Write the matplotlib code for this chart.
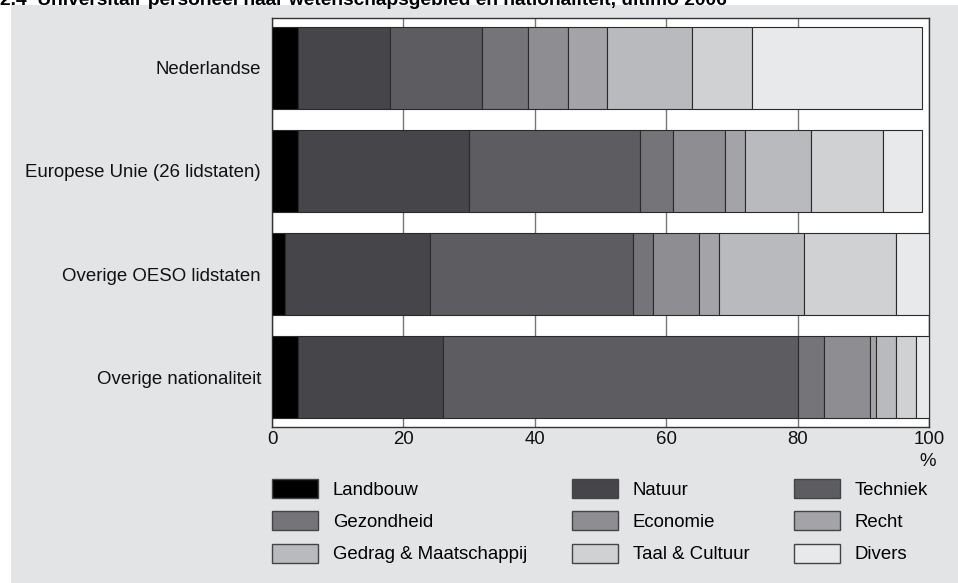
import matplotlib
matplotlib.use("Agg")
import matplotlib.pyplot as plt
from matplotlib.patches import Patch, Rectangle
import numpy as np

plt.rcParams["font.family"] = ["Liberation Sans", "DejaVu Sans"]

# ── Data ──────────────────────────────────────────────────────────────────────
groups = ["Nederlandse", "Europese Unie (26 lidstaten)",
          "Overige OESO lidstaten", "Overige nationaliteit"]
fields = ["Landbouw", "Natuur", "Techniek", "Gezondheid", "Economie",
          "Recht", "Gedrag & Maatschappij", "Taal & Cultuur", "Divers"]

landbouw   = [4, 4, 2, 4]
natuur     = [14, 26, 22, 22]
techniek   = [14, 26, 31, 54]
gezondheid = [7, 5, 3, 4]
economie   = [6, 8, 7, 7]
recht      = [6, 3, 3, 1]
gedrag     = [13, 10, 13, 3]
taal       = [9, 11, 14, 3]
divers     = [26, 6, 5, 2]

series = [landbouw, natuur, techniek, gezondheid, economie,
          recht, gedrag, taal, divers]
colors = ["#000000", "#464549", "#5d5c61", "#757479", "#8e8d92",
          "#a4a3a7", "#b9babd", "#d0d1d3", "#e8e9ea"]

# ── Figure ────────────────────────────────────────────────────────────────────
fig = plt.figure(figsize=(9.58, 5.83), dpi=100)
fig.patch.set_facecolor("white")
fig.patches.append(Rectangle((11 / 958, 0), 1, 1 - 5 / 583,
                             transform=fig.transFigure,
                             facecolor="#e3e4e6", edgecolor="none", zorder=-10))

ax = fig.add_axes([272 / 958, 1 - 427 / 583, 657 / 958, 409 / 583])
ax.set_facecolor("white")

y = np.arange(len(groups))
left = np.zeros(len(groups))
for vals, col, name in zip(series, colors, fields):
    ax.barh(y, vals, left=left, height=0.8, color=col, edgecolor="#2a2a2a",
            linewidth=0.8, label=name, zorder=3)
    left += np.array(vals)

ax.set_xlim(0, 100)
ax.set_ylim(3.485, -0.485)
ax.set_xticks([0, 20, 40, 60, 80, 100])
ax.set_yticks(y)
ax.set_yticklabels(groups)
ax.tick_params(axis="both", length=0, labelsize=13.4, colors="#111111")
ax.tick_params(axis="x", pad=3)
ax.tick_params(axis="y", pad=8)
ax.grid(axis="x", color="#777777", linewidth=1, zorder=1)
ax.set_axisbelow(True)
for s in ax.spines.values():
    s.set_color("#333333")
    s.set_linewidth(1)

fig.text(928 / 958, 1 - 462 / 583, "%", ha="center", va="center",
         fontsize=13.4, color="#111111")

fig.text(0.0, 1 - 5 / 583,
         "2.4  Universitair personeel naar wetenschapsgebied en nationaliteit, ultimo 2006",
         ha="left", va="baseline", fontsize=13.8, fontweight="bold")

# ── Legend (row-wise order, matplotlib fills column-wise) ─────────────────────
handles = [Patch(facecolor=c, edgecolor="#444444", linewidth=1, label=f)
           for c, f in zip(colors, fields)]
order = [0, 3, 6, 1, 4, 7, 2, 5, 8]
fig.legend([handles[i] for i in order], [fields[i] for i in order],
           ncol=3, loc="upper left", bbox_to_anchor=(272 / 958, 1 - 479 / 583),
           frameon=False, fontsize=13.4, borderpad=0, borderaxespad=0,
           handlelength=2.47, handleheight=1.18, handletextpad=0.8,
           columnspacing=2.4, labelspacing=0.68)

plt.savefig("out.png", dpi=100)
plt.close()
